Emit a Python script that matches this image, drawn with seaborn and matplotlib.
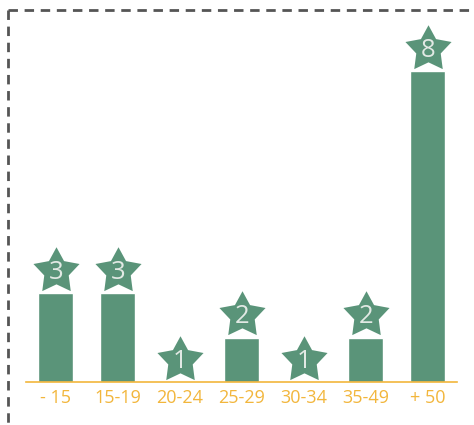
import numpy as np
import pandas as pd
import seaborn as sns
from matplotlib import pyplot as plt
from matplotlib.lines import Line2D
from matplotlib.path import Path

# age groups and the counts shown in the stars
age_groups = ['- 15', '15-19', '20-24', '25-29', '30-34', '35-49', '+ 50']
counts = [3, 3, 1, 2, 1, 2, 8]
# bar heights as drawn in the picture
bar_heights = [2, 2, 0, 1, 0, 1, 7]

green = '#5a9479'
gold = '#f2b63c'

sns.set_style('white')
plt.rcParams['font.family'] = ['Open Sans', 'DejaVu Sans']

df = pd.DataFrame({'group': age_groups, 'height': bar_heights, 'count': counts})

fig = plt.figure(figsize=(4.74, 4.25), dpi=100)
ax = fig.add_axes([26 / 474, 43 / 425, (457 - 26) / 474, (415 - 43) / 425])

sns.barplot(data=df, x='group', y='height', color=green, saturation=1,
            width=0.565, ax=ax)

# a fatter star than matplotlib's default '*'
star = Path.unit_regular_star(5, innerCircle=0.53)

# stars sitting on top of each bar
star_y = df['height'] + 0.5
ax.scatter(np.arange(len(df)), star_y, marker=star, s=1220, color=green,
           linewidths=0, zorder=3)
for i, (y, c) in enumerate(zip(star_y, df['count'])):
    ax.text(i, y - 0.03, str(c), ha='center', va='center', color='#e2e9e4',
            fontsize=18.5, zorder=4)

ax.set_xlim(-0.48, 6.47)
ax.set_ylim(0, 8.38)
ax.set_xlabel('')
ax.set_ylabel('')
ax.set_yticks([])
ax.tick_params(axis='x', length=0, pad=5, labelsize=13, labelcolor=gold)

sns.despine(ax=ax, left=True, top=True, right=True)
ax.spines['bottom'].set_color(gold)
ax.spines['bottom'].set_linewidth(1.2)

# dashed frame along top and left
fig.add_artist(Line2D([7.5 / 474, 1.0], [1 - 9.5 / 425, 1 - 9.5 / 425],
                      transform=fig.transFigure, color='#555555', lw=2,
                      dashes=(3.4, 2.4)))
fig.add_artist(Line2D([7.5 / 474, 7.5 / 474], [1 - 9.5 / 425, 0.0],
                      transform=fig.transFigure, color='#555555', lw=2,
                      dashes=(3.4, 2.4)))

fig.savefig('out.png', dpi=100)
